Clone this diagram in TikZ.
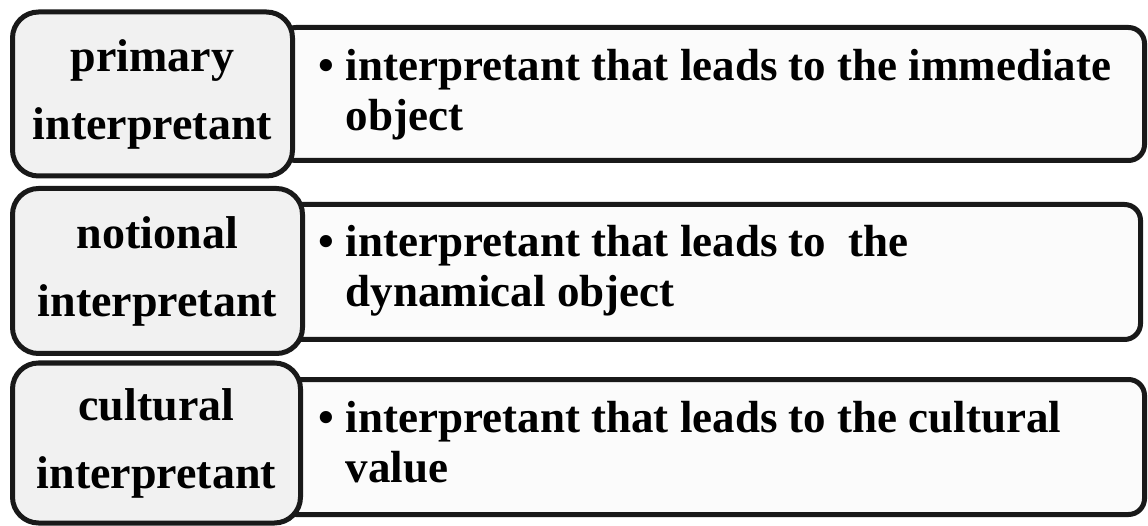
\documentclass[tikz,border=0pt]{standalone}
\usepackage{fontspec}
\setmainfont{Liberation Serif}
\definecolor{termfill}{HTML}{F1F1F1}
\definecolor{descfill}{HTML}{FBFBFB}
\begin{document}
\begin{tikzpicture}[x=1pt,y=-1pt,
      termbox/.style={draw=black!90,line width=5pt,rounded corners=26pt,
        fill=termfill,inner sep=0pt,align=center,
        font=\fontsize{46}{68}\selectfont\bfseries},
      descbox/.style={draw=black!90,line width=5pt,rounded corners=16pt,
        fill=descfill,inner sep=0pt},
      desctext/.style={anchor=west,inner sep=0pt,
        font=\fontsize{45}{50}\selectfont\bfseries}]
      \useasboundingbox (0,0) rectangle (1148,526);
      % description boxes first, the term boxes overlap their left ends
      \node[descbox,minimum width=864.5pt,minimum height=133pt] (d1) at (712.25,94) {};
      \node[descbox,minimum width=860.5pt,minimum height=135pt] (d2) at (710.25,272) {};
      \node[descbox,minimum width=864.5pt,minimum height=135pt] (d3) at (712.25,447) {};
      \node[termbox,minimum width=280pt,minimum height=164pt] (p) at (152.5,94)
        {primary\\interpretant};
      \node[termbox,minimum width=290pt,minimum height=165pt] (n) at (157.5,271)
        {notional\\interpretant};
      \node[termbox,minimum width=288pt,minimum height=160pt] (c) at (156.5,443)
        {cultural\\interpretant};
      \node[desctext] (t1) at (318,95.5) {\begin{tabular}{@{}l@{\hspace{12pt}}l@{}}
        \textbullet & interpretant that leads to the immediate\\ & object\end{tabular}};
      \node[desctext] (t2) at (318,272) {\begin{tabular}{@{}l@{\hspace{12pt}}l@{}}
        \textbullet & interpretant that leads to\ \ the\\ & dynamical object\end{tabular}};
      \node[desctext] (t3) at (318,447) {\begin{tabular}{@{}l@{\hspace{12pt}}l@{}}
        \textbullet & interpretant that leads to the cultural\\ & value\end{tabular}};
     \end{tikzpicture}
\end{document}
